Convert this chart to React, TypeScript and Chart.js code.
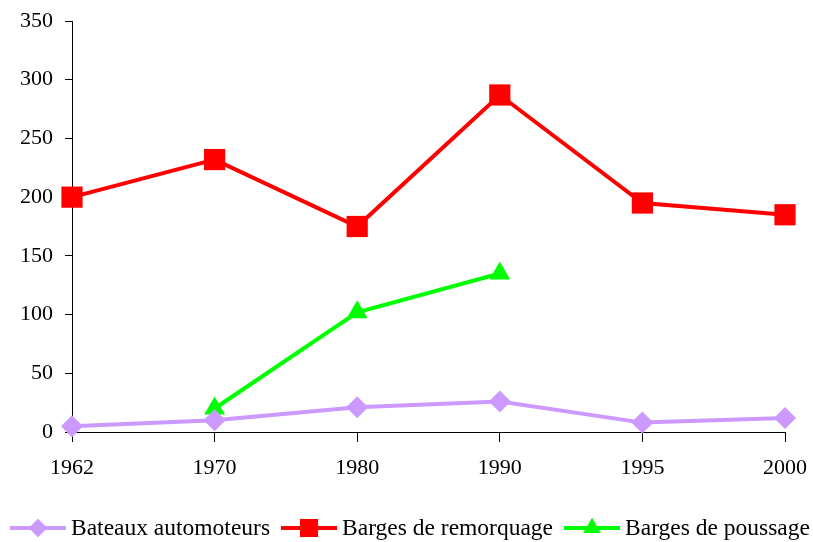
import React, { useEffect, useRef } from "react";
import { Chart, registerables } from "chart.js";

Chart.register(...registerables);

const years = ["1962", "1970", "1980", "1990", "1995", "2000"];
const bateauxAutomoteurs = [5, 10, 21, 26, 8, 12];
const bargesRemorquage = [200, 232, 175, 287, 195, 185];
const bargesPoussage = [null, 20, 102, 135, null, null];
const seriesNames = ["Bateaux automoteurs", "Barges de remorquage", "Barges de poussage"];
const seriesColors = ["#CC99FF", "#FF0000", "#00FF00"];
const seriesStyles = ["rectRot", "rect", "triangle"];
const seriesRadius = [11, 15, 12];
const yMin = 0;
const yMax = 350;
const yStep = 50;

const FONT = "'Liberation Serif', 'Times New Roman', serif";

function drawMarker(ctx: CanvasRenderingContext2D, style: string, x: number, y: number, r: number) {
  ctx.beginPath();
  if (style === "rect") {
    const s = Math.SQRT1_2 * r;
    ctx.rect(x - s, y - s, 2 * s, 2 * s);
  } else if (style === "rectRot") {
    ctx.moveTo(x, y - r);
    ctx.lineTo(x + r, y);
    ctx.lineTo(x, y + r);
    ctx.lineTo(x - r, y);
    ctx.closePath();
  } else {
    const h = r * 1.5;
    const w = r * Math.sqrt(3);
    ctx.moveTo(x, y - r);
    ctx.lineTo(x + w / 2, y + h - r);
    ctx.lineTo(x - w / 2, y + h - r);
    ctx.closePath();
  }
  ctx.fill();
}

const customLegend = {
  id: "customLegend",
  afterDraw(chart: any) {
    const ctx: CanvasRenderingContext2D = chart.ctx;
    ctx.save();
    ctx.font = `23.5px ${FONT}`;
    ctx.textBaseline = "middle";
    const iconW = 56;
    const gapText = 5;
    const gapItem = 11;
    let x = 10;
    const y = 528;
    seriesNames.forEach((name, i) => {
      ctx.strokeStyle = seriesColors[i];
      ctx.fillStyle = seriesColors[i];
      ctx.lineWidth = 4;
      ctx.beginPath();
      ctx.moveTo(x, y);
      ctx.lineTo(x + iconW, y);
      ctx.stroke();
      drawMarker(ctx, seriesStyles[i], x + iconW / 2, y, seriesRadius[i] * 0.85);
      ctx.fillStyle = "#000";
      ctx.textAlign = "left";
      ctx.fillText(name, x + iconW + gapText, y + 1);
      x += iconW + gapText + ctx.measureText(name).width + gapItem;
    });
    ctx.restore();
  },
};

export default function App() {
  const ref = useRef<HTMLCanvasElement | null>(null);
  useEffect(() => {
    if (!ref.current) return;
    const data = [bateauxAutomoteurs, bargesRemorquage, bargesPoussage];
    const chart = new Chart(ref.current, {
      type: "line",
      data: {
        labels: years,
        datasets: data.map((d, i) => ({
          label: seriesNames[i],
          data: d as any,
          borderColor: seriesColors[i],
          backgroundColor: seriesColors[i],
          borderWidth: 4,
          pointStyle: seriesStyles[i] as any,
          pointRadius: seriesRadius[i],
          pointHoverRadius: seriesRadius[i],
          pointBorderWidth: 0,
          pointBackgroundColor: seriesColors[i],
          tension: 0,
          clip: false as any,
          spanGaps: false,
        })),
      },
      options: {
        animation: false,
        responsive: false,
        maintainAspectRatio: false,
        layout: { padding: { top: 21, left: 0, right: 28, bottom: 60 } },
        plugins: { legend: { display: false }, tooltip: { enabled: false } },
        scales: {
          x: {
            type: "category",
            offset: false,
            grid: { drawOnChartArea: false, drawTicks: true, tickLength: 10, color: "#000" },
            border: { display: true, color: "#000", width: 1 },
            ticks: { color: "#000", font: { family: FONT, size: 22 }, padding: 13, maxRotation: 0, autoSkip: false },
            afterFit: (scale: any) => {
              scale.height = 50;
              scale.paddingLeft = 0;
              scale.paddingRight = 0;
            },
          },
          y: {
            min: yMin,
            max: yMax,
            grid: { drawOnChartArea: false, drawTicks: true, tickLength: 7, color: "#000" },
            border: { display: true, color: "#000", width: 1 },
            ticks: { stepSize: yStep, color: "#000", font: { family: FONT, size: 22 }, padding: 12 },
            afterFit: (scale: any) => {
              scale.width = 72;
              scale.paddingTop = 0;
              scale.paddingBottom = 0;
            },
          },
        },
      },
      plugins: [customLegend],
    });
    return () => chart.destroy();
  }, []);
  return (
    <div style={{ position: "fixed", left: 0, top: 0, width: 813, height: 542, background: "#fff" }}>
      <canvas ref={ref} width={813} height={542} style={{ width: 813, height: 542 }} />
    </div>
  );
}
